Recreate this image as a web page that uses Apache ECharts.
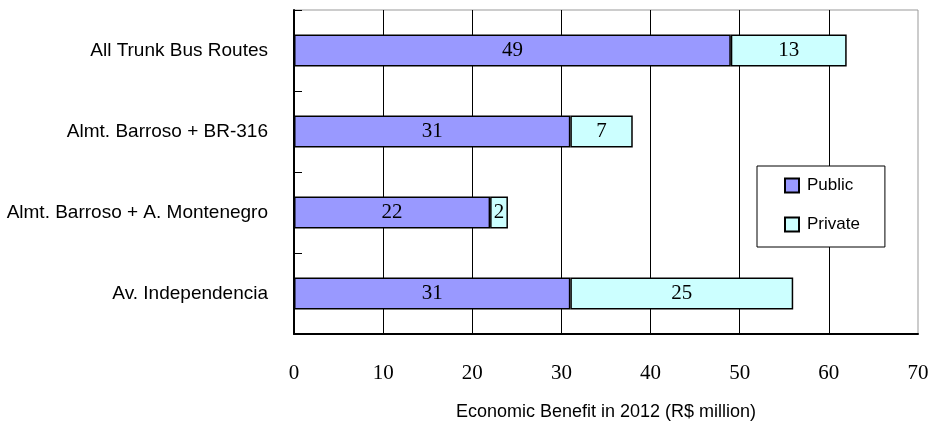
<!DOCTYPE html>
<html>
<head>
<meta charset="utf-8">
<style>
  html, body { margin: 0; padding: 0; background: #fff; }
  #chart { width: 932px; height: 434px; }
</style>
<script src="https://cdn.jsdelivr.net/npm/echarts@6/dist/echarts.min.js"></script>
</head>
<body>
<div id="chart"></div>
<script>
// Economic benefit by corridor, split into public and private shares
const routes = [
  'All Trunk Bus Routes',
  'Almt. Barroso + BR-316',
  'Almt. Barroso + A. Montenegro',
  'Av. Independencia'
];
const publicBenefit = [49, 31, 22, 31];
const privateBenefit = [13, 7, 2, 25];
const xTicks = { min: 0, max: 70, step: 10 };
const xTitle = 'Economic Benefit in 2012 (R$ million)';

const sans = '"Liberation Sans", Arial, sans-serif';
const serif = '"Liberation Serif", "DejaVu Serif", serif';

const chart = echarts.init(document.getElementById('chart'), null, { renderer: 'canvas' });

const barLabel = {
  show: true,
  position: 'inside',
  color: '#000',
  fontFamily: serif,
  fontSize: 21
};

chart.setOption({
  animation: false,
  backgroundColor: '#fff',
  grid: {
    left: 294, right: 14, top: 10, bottom: 100,
    outerBoundsMode: 'none',
    containLabel: false,
    show: true, borderColor: '#999', borderWidth: 1, backgroundColor: 'transparent'
  },
  legend: {
    orient: 'vertical',
    left: 757, top: 166,
    padding: [11, 25, 14, 27],
    itemGap: 22,
    itemWidth: 14, itemHeight: 14,
    icon: 'rect',
    backgroundColor: '#fff',
    borderColor: '#000', borderWidth: 1,
    textStyle: { fontFamily: sans, fontSize: 17, color: '#000', padding: [0, 0, 0, 3] },
    data: ['Public', 'Private']
  },
  xAxis: {
    type: 'value',
    min: xTicks.min, max: xTicks.max, interval: xTicks.step,
    name: xTitle,
    nameLocation: 'middle',
    nameGap: 69,
    nameTextStyle: { fontFamily: sans, fontSize: 18, color: '#000' },
    axisLine: { show: true, lineStyle: { color: '#000', width: 2 } },
    axisTick: { show: false },
    axisLabel: { margin: 29, fontFamily: serif, fontSize: 21, color: '#000' },
    splitLine: { show: true, showMinLine: false, showMaxLine: false, lineStyle: { color: '#000', width: 1 } }
  },
  yAxis: {
    type: 'category',
    inverse: true,
    data: routes,
    axisLine: { show: true, lineStyle: { color: '#000', width: 2 } },
    axisTick: { show: true, inside: true, length: 8, lineStyle: { color: '#000', width: 1 } },
    axisLabel: { margin: 26, fontFamily: sans, fontSize: 19, color: '#000' },
    splitLine: { show: false }
  },
  series: [
    {
      name: 'Public', type: 'bar', stack: 'benefit', barWidth: 32,
      data: publicBenefit,
      itemStyle: { color: '#9999FF', borderColor: '#000', borderWidth: 1.5 },
      label: barLabel
    },
    {
      name: 'Private', type: 'bar', stack: 'benefit', barWidth: 32,
      data: privateBenefit,
      itemStyle: { color: '#CCFFFF', borderColor: '#000', borderWidth: 1.5 },
      label: barLabel
    }
  ]
});
</script>
</body>
</html>
